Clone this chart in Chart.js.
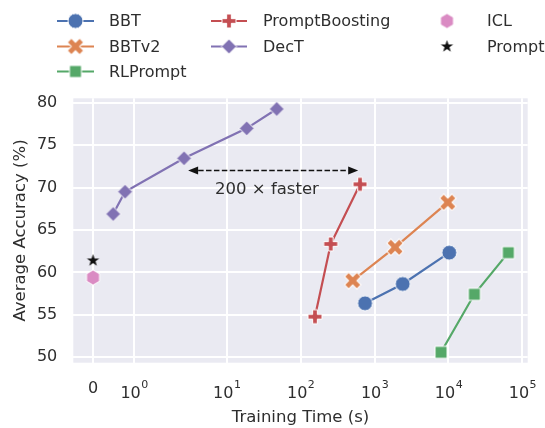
<!DOCTYPE html>
<html>
<head>
<meta charset="utf-8">
<script src="https://cdn.jsdelivr.net/npm/chart.js@4.4.1/dist/chart.umd.min.js"></script>
<style>
  html, body { margin:0; padding:0; background:#fff; }
  #wrap { width:545px; height:428px; position:relative; }
</style>
</head>
<body>
<div id="wrap"><canvas id="chart"></canvas></div>
<script>
// ===== data (training time in s, average accuracy in %) =====
const bbtTime = [742, 2404, 10260];
const bbtAcc  = [56.36, 58.64, 62.33];
const bbt2Time = [506, 1890, 9775];
const bbt2Acc  = [59.03, 62.96, 68.26];
const rlTime = [7926, 22380, 64560];
const rlAcc  = [50.59, 57.42, 62.33];
const pbTime = [156, 255, 635];
const pbAcc  = [54.78, 63.35, 70.39];
const dectTime = [0.49, 0.78, 2.64, 18.6, 47.4];
const dectAcc  = [66.89, 69.51, 73.45, 76.98, 79.26];
const iclTime = [0], iclAcc = [59.4];
const promptTime = [0], promptAcc = [61.4];

const xTicks = [0, 1, 10, 100, 1000, 10000, 100000];
const yTicks = [50, 55, 60, 65, 70, 75, 80];

// annotation "200 x faster"
const arrowX = [3, 600], arrowY = 72;
const noteX = 35, noteY = 69.8, noteText = '200 \u00d7 faster';

(function(){
  const FONT = 'DejaVu Sans';
  const INK = '#2e2e2e';
  Chart.defaults.font.family = FONT;
  Chart.defaults.color = INK;

  // ===== symlog scale (linthresh 2, linscale 1) =====
  const LT = 2, LS = 1 / (1 - 1/10);
  const tf = (v) => { const a = Math.abs(v); return a <= LT ? v*LS : Math.sign(v)*LT*(LS + Math.log10(a/LT)); };
  const itf = (t) => { const a = Math.abs(t); return a <= LT*LS ? t/LS : Math.sign(t)*LT*Math.pow(10, a/LT - LS); };

  class SymlogScale extends Chart.LinearScale {
    configure(){ super.configure(); this._t0 = tf(this.min); this._tr = tf(this.max) - this._t0; }
    getPixelForValue(v){ return v == null ? NaN : this.getPixelForDecimal((tf(v) - this._t0) / this._tr); }
    getValueForPixel(p){ return itf(this._t0 + this.getDecimalForPixel(p) * this._tr); }
  }
  SymlogScale.id = 'symlog';
  SymlogScale.defaults = {};
  Chart.register(SymlogScale);

  // ===== marker images =====
  function marker(kind, size, fill){
    const pad = 2, c = document.createElement('canvas');
    c.width = c.height = Math.ceil(size + pad*2);
    const g = c.getContext('2d'), m = c.width/2, r = size/2;
    g.translate(m, m);
    g.beginPath();
    const poly = (pts) => { pts.forEach((p,i)=> i ? g.lineTo(p[0]*r, p[1]*r) : g.moveTo(p[0]*r, p[1]*r)); g.closePath(); };
    const plus = [[-1,-3],[1,-3],[1,-1],[3,-1],[3,1],[1,1],[1,3],[-1,3],[-1,1],[-3,1],[-3,-1],[-1,-1]].map(p=>[p[0]/3,p[1]/3]);
    if (kind === 'circle') g.arc(0,0,r,0,Math.PI*2);
    else if (kind === 'square') g.rect(-r,-r,size,size);
    else if (kind === 'diamond') poly([[0,-1],[1,0],[0,1],[-1,0]]);
    else if (kind === 'plus') poly(plus);
    else if (kind === 'x'){ g.rotate(Math.PI/4); poly(plus.map(p=>[p[0]*1.25, p[1]*1.25])); }
    else if (kind === 'hexagon'){ const pts=[]; for(let i=0;i<6;i++){ const a=-Math.PI/2+i*Math.PI/3; pts.push([Math.cos(a),Math.sin(a)]); } poly(pts); }
    else if (kind === 'star'){ const pts=[]; for(let i=0;i<10;i++){ const a=-Math.PI/2+i*Math.PI/5, rr = i%2 ? 0.4 : 1; pts.push([rr*Math.cos(a), rr*Math.sin(a)]); } poly(pts); }
    g.fillStyle = fill; g.fill();
    if (kind !== 'star'){ g.strokeStyle = '#fff'; g.lineWidth = 1; g.stroke(); }
    return c;
  }

  const pts = (xs, ys) => xs.map((x,i) => ({x, y: ys[i]}));
  const series = [
    { label:'BBT', color:'#4C72B0', m: marker('circle', 15, '#4C72B0'), x:bbtTime, y:bbtAcc, line:true },
    { label:'BBTv2', color:'#DD8452', m: marker('x', 14, '#DD8452'), x:bbt2Time, y:bbt2Acc, line:true },
    { label:'RLPrompt', color:'#55A868', m: marker('square', 12, '#55A868'), x:rlTime, y:rlAcc, line:true },
    { label:'PromptBoosting', color:'#C44E52', m: marker('plus', 14, '#C44E52'), x:pbTime, y:pbAcc, line:true },
    { label:'DecT', color:'#8172B3', m: marker('diamond', 15, '#8172B3'), x:dectTime, y:dectAcc, line:true },
    { label:'ICL', color:'#DA8BC3', m: marker('hexagon', 15, '#DA8BC3'), x:iclTime, y:iclAcc, line:false },
    { label:'Prompt', color:'#111', m: marker('star', 13, '#111'), x:promptTime, y:promptAcc, line:false }
  ];

  // legend layout (3 columns, column-major like matplotlib)
  const legendRows = [21, 46.5, 71.5];
  const legendCols = [
    { lx0:57, lx1:94, mx:75.5, tx:109, items:[0,1,2] },
    { lx0:211, lx1:247, mx:229, tx:263, items:[3,4] },
    { lx0:null, mx:447, tx:487, items:[5,6] }
  ];

  const bgPlugin = {
    id:'bg',
    beforeDraw(chart){
      const {ctx, chartArea:a} = chart;
      ctx.save(); ctx.fillStyle = '#EAEAF2'; ctx.fillRect(a.left, a.top, a.right-a.left, a.bottom-a.top); ctx.restore();
    }
  };

  const decoPlugin = {
    id:'deco',
    afterDraw(chart){
      const {ctx} = chart, xs = chart.scales.x, ys = chart.scales.y;
      ctx.save();
      // x tick labels with superscripts
      ctx.fillStyle = INK;
      xTicks.forEach(v => {
        const px = xs.getPixelForValue(v);
        if (v === 0){
          ctx.font = '16px ' + FONT; ctx.textAlign = 'center'; ctx.textBaseline = 'alphabetic';
          ctx.fillText('0', px, xs.top + 30);
          return;
        }
        const e = String(Math.round(Math.log10(v)));
        ctx.font = '16px ' + FONT; const wb = ctx.measureText('10').width;
        ctx.font = '11px ' + FONT; const we = ctx.measureText(e).width;
        const x0 = px - (wb + we)/2;
        ctx.textAlign = 'left'; ctx.textBaseline = 'alphabetic';
        ctx.font = '16px ' + FONT; ctx.fillText('10', x0, xs.top + 35.5);
        ctx.font = '11px ' + FONT; ctx.fillText(e, x0 + wb + 0.5, xs.top + 25);
      });

      // dashed double arrow + note
      const ax0 = xs.getPixelForValue(arrowX[0]), ax1 = xs.getPixelForValue(arrowX[1]);
      const ay = ys.getPixelForValue(arrowY);
      const hl = 10, hw = 4;
      ctx.strokeStyle = '#111'; ctx.fillStyle = '#111'; ctx.lineWidth = 1.5;
      ctx.setLineDash([5.5, 2.4]);
      ctx.beginPath(); ctx.moveTo(ax0 + hl, ay); ctx.lineTo(ax1 - hl, ay); ctx.stroke();
      ctx.setLineDash([]);
      ctx.beginPath(); ctx.moveTo(ax0, ay); ctx.lineTo(ax0 + hl, ay - hw); ctx.lineTo(ax0 + hl, ay + hw); ctx.closePath(); ctx.fill();
      ctx.beginPath(); ctx.moveTo(ax1, ay); ctx.lineTo(ax1 - hl, ay - hw); ctx.lineTo(ax1 - hl, ay + hw); ctx.closePath(); ctx.fill();
      ctx.fillStyle = INK; ctx.font = '16.5px ' + FONT; ctx.textAlign = 'center'; ctx.textBaseline = 'middle';
      ctx.fillText(noteText, xs.getPixelForValue(noteX), ys.getPixelForValue(noteY));

      // legend
      ctx.font = '16px ' + FONT; ctx.textAlign = 'left'; ctx.textBaseline = 'middle';
      legendCols.forEach(col => col.items.forEach((idx, r) => {
        const s = series[idx], y = legendRows[r];
        if (s.line && col.lx0 != null){
          ctx.strokeStyle = s.color; ctx.lineWidth = 2.2;
          ctx.beginPath(); ctx.moveTo(col.lx0, y); ctx.lineTo(col.lx1, y); ctx.stroke();
        }
        ctx.drawImage(s.m, col.mx - s.m.width/2, y - s.m.height/2);
        ctx.fillStyle = INK; ctx.fillText(s.label, col.tx, y + 1);
      }));
      ctx.restore();
    }
  };

  new Chart(document.getElementById('chart'), {
    type:'line',
    data:{ datasets: series.map(s => ({
      label:s.label, data:pts(s.x, s.y), showLine:s.line,
      borderColor:s.color, backgroundColor:s.color, borderWidth:2.2, tension:0, fill:false,
      pointStyle:s.m, pointRadius:6, pointHoverRadius:6
    })) },
    options:{
      responsive:true, maintainAspectRatio:false, animation:false,
      layout:{ padding:{ top:98.3, right:17.3, left:0, bottom:0 } },
      plugins:{ legend:{display:false}, tooltip:{enabled:false} },
      scales:{
        x:{
          type:'symlog', min:-0.48, max:118000,
          afterBuildTicks:(s)=>{ s.ticks = xTicks.map(v=>({value:v})); },
          afterFit:(s)=>{ s.height = 65.3; },
          ticks:{ display:false },
          grid:{ color:'#fff', lineWidth:2, drawTicks:false },
          border:{ display:false },
          title:{ display:true, text:'Training Time (s)', color:INK, font:{size:16.5}, padding:{top:0, bottom:0} }
        },
        y:{
          type:'linear', min:49.36, max:80.52,
          afterBuildTicks:(s)=>{ s.ticks = yTicks.map(v=>({value:v})); },
          afterFit:(s)=>{ s.width = 73.3; },
          ticks:{ color:INK, font:{size:16}, padding:16 },
          grid:{ color:'#fff', lineWidth:2, drawTicks:false },
          border:{ display:false },
          title:{ display:true, text:'Average Accuracy (%)', color:INK, font:{size:16.5}, padding:{top:11, bottom:0} }
        }
      }
    },
    plugins:[bgPlugin, decoPlugin]
  });
})();
</script>
</body>
</html>
